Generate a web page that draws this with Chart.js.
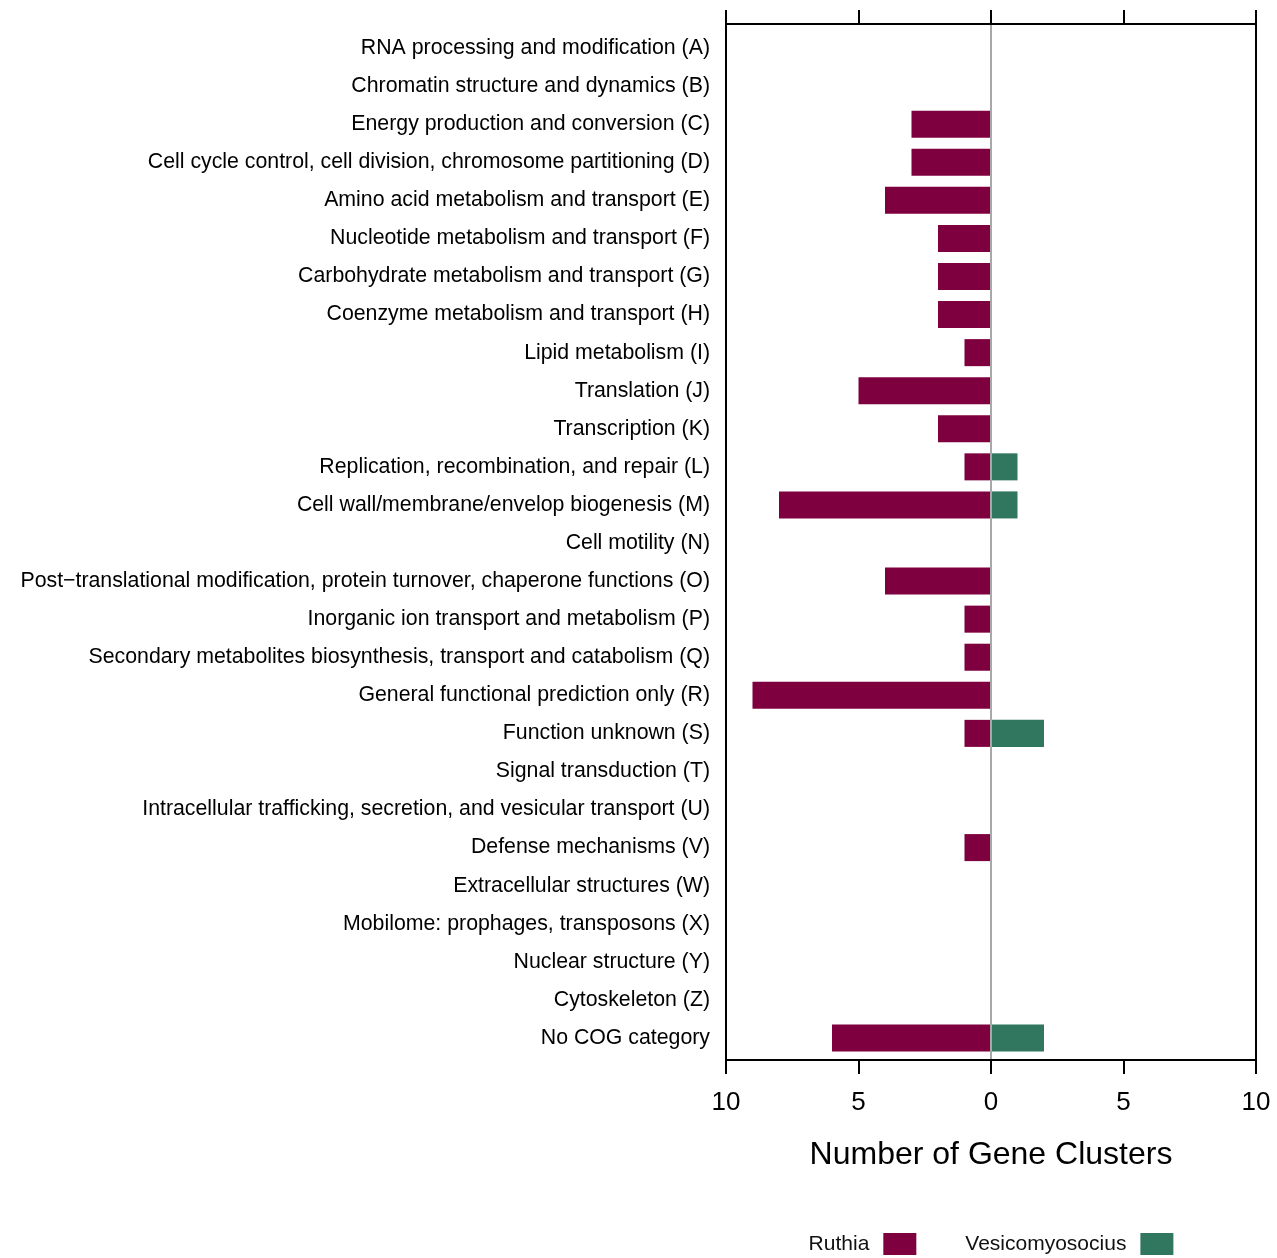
<!DOCTYPE html>
<html>
<head>
<meta charset="utf-8">
<script src="https://cdn.jsdelivr.net/npm/chart.js@4"></script>
<style>
  html, body { margin: 0; padding: 0; background: #fff; overflow: hidden; }
  #wrap { width: 1277px; height: 1258px; }
</style>
</head>
<body>
<div id="wrap"><canvas id="cog"></canvas></div>
<script>
// COG functional categories, top to bottom
const categories = [
  'RNA processing and modification (A)',
  'Chromatin structure and dynamics (B)',
  'Energy production and conversion (C)',
  'Cell cycle control, cell division, chromosome partitioning (D)',
  'Amino acid metabolism and transport (E)',
  'Nucleotide metabolism and transport (F)',
  'Carbohydrate metabolism and transport (G)',
  'Coenzyme metabolism and transport (H)',
  'Lipid metabolism (I)',
  'Translation (J)',
  'Transcription (K)',
  'Replication, recombination, and repair (L)',
  'Cell wall/membrane/envelop biogenesis (M)',
  'Cell motility (N)',
  'Post\u2212translational modification, protein turnover, chaperone functions (O)',
  'Inorganic ion transport and metabolism (P)',
  'Secondary metabolites biosynthesis, transport and catabolism (Q)',
  'General functional prediction only (R)',
  'Function unknown (S)',
  'Signal transduction (T)',
  'Intracellular trafficking, secretion, and vesicular transport (U)',
  'Defense mechanisms (V)',
  'Extracellular structures (W)',
  'Mobilome: prophages, transposons (X)',
  'Nuclear structure (Y)',
  'Cytoskeleton (Z)',
  'No COG category'
];

// Gene cluster counts per category (Ruthia plotted to the left)
const ruthia = [0, 0, 3, 3, 4, 2, 2, 2, 1, 5, 2, 1, 8, 0, 4, 1, 1, 9, 1, 0, 0, 1, 0, 0, 0, 0, 6];
const vesicomyosocius = [0, 0, 0, 0, 0, 0, 0, 0, 0, 0, 0, 1, 1, 0, 0, 0, 0, 0, 2, 0, 0, 0, 0, 0, 0, 0, 2];

const xTicks = [-10, -5, 0, 5, 10];

const FONT = '"Liberation Sans", Arial, Helvetica, sans-serif';
const RUTHIA_COLOR = '#7f003f';
const VESI_COLOR = '#31765f';

// Frame: top and bottom axis lines with outward ticks, side borders, grey zero line
const framePlugin = {
  id: 'frame',
  afterDatasetsDraw(chart) {
    const { ctx, chartArea: a, scales: { x } } = chart;
    const topY = a.top - 5, botY = a.bottom + 3, tick = 14;
    ctx.save();
    // zero line
    ctx.strokeStyle = '#a8a8a8';
    ctx.lineWidth = 2;
    const x0 = x.getPixelForValue(0);
    ctx.beginPath();
    ctx.moveTo(x0, topY); ctx.lineTo(x0, botY);
    ctx.stroke();
    // axes and side borders
    ctx.strokeStyle = '#000';
    ctx.lineWidth = 2;
    ctx.beginPath();
    ctx.moveTo(a.left, topY); ctx.lineTo(a.right, topY);
    ctx.moveTo(a.left, botY); ctx.lineTo(a.right, botY);
    ctx.moveTo(a.left, topY - tick); ctx.lineTo(a.left, botY + tick);
    ctx.moveTo(a.right, topY - tick); ctx.lineTo(a.right, botY + tick);
    xTicks.forEach(v => {
      const px = Math.round(x.getPixelForValue(v));
      ctx.moveTo(px, topY - tick); ctx.lineTo(px, topY);
      ctx.moveTo(px, botY); ctx.lineTo(px, botY + tick);
    });
    ctx.stroke();
    ctx.restore();
  },
  afterDraw(chart) {
    // legend: label followed by its colour box
    const { ctx, chartArea: a } = chart;
    ctx.save();
    ctx.font = '21px ' + FONT;
    ctx.textBaseline = 'middle';
    const boxW = 33, boxH = 22, gapText = 14, gapItem = 49;
    const items = chart.data.datasets.map(d => ({ label: d.label, color: d.backgroundColor, w: ctx.measureText(d.label).width }));
    let total = 0;
    items.forEach((it, i) => { total += it.w + gapText + boxW + (i ? gapItem : 0); });
    let cx = (a.left + a.right) / 2 - total / 2;
    const cy = 1244;
    items.forEach((it, i) => {
      if (i) cx += gapItem;
      ctx.fillStyle = '#111';
      ctx.textAlign = 'left';
      ctx.fillText(it.label, cx, cy);
      cx += it.w + gapText;
      ctx.fillStyle = it.color;
      ctx.fillRect(cx, cy - boxH / 2, boxW, boxH);
      cx += boxW;
    });
    ctx.restore();
  }
};

new Chart(document.getElementById('cog'), {
  type: 'bar',
  data: {
    labels: categories,
    datasets: [
      { label: 'Ruthia', data: ruthia.map(v => -v), backgroundColor: RUTHIA_COLOR },
      { label: 'Vesicomyosocius', data: vesicomyosocius, backgroundColor: VESI_COLOR }
    ]
  },
  options: {
    indexAxis: 'y',
    responsive: true,
    maintainAspectRatio: false,
    animation: false,
    layout: { padding: { top: 29, right: 21, bottom: 84, left: 0 } },
    datasets: { bar: { categoryPercentage: 1, barPercentage: 0.71, borderWidth: 0 } },
    plugins: { legend: { display: false }, tooltip: { enabled: false } },
    scales: {
      x: {
        type: 'linear',
        stacked: true,
        min: -10, max: 10,
        afterBuildTicks: s => { s.ticks = xTicks.map(v => ({ value: v })); },
        afterFit: s => { s.height = 117; s.paddingLeft = 0; s.paddingRight = 0; },
        grid: { display: false, drawTicks: false },
        border: { display: false },
        ticks: {
          color: '#000',
          padding: 30,
          font: { family: FONT, size: 26 },
          maxRotation: 0,
          callback: v => String(Math.abs(v))
        },
        title: {
          display: true,
          text: 'Number of Gene Clusters',
          color: '#000',
          font: { family: FONT, size: 32 },
          padding: { top: 16, bottom: 0 }
        }
      },
      y: {
        stacked: true,
        afterFit: s => { s.width = 726; },
        grid: { display: false, drawTicks: false },
        border: { display: false },
        ticks: {
          color: '#000',
          padding: 16,
          autoSkip: false,
          font: { family: FONT, size: 21.3 }
        }
      }
    }
  },
  plugins: [framePlugin]
});
</script>
</body>
</html>
